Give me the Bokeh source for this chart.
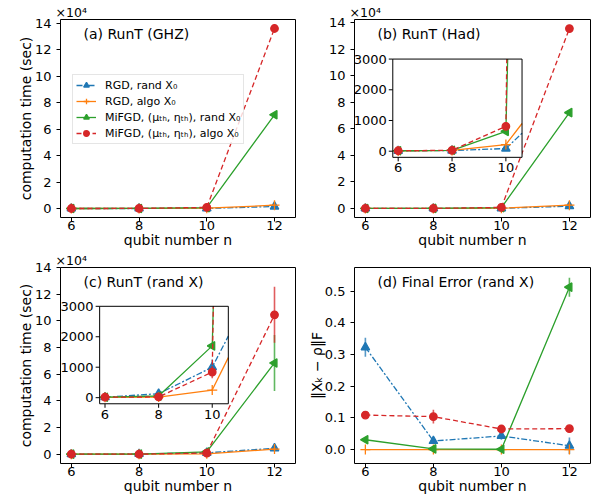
import numpy as np
from bokeh.plotting import figure
from bokeh.models import Range1d, Label, Legend, LegendItem, FixedTicker, Title
from bokeh.layouts import row, column
from bokeh.core.properties import value
from bokeh.embed import file_html
from bokeh.resources import INLINE

FONT = "DejaVu Sans"

# ---------------- data ----------------
qubits = [6, 8, 10, 12]
xticks = [6, 8, 10, 12]
xtick_labels = ["6", "8", "10", "12"]
runt_yticks = [0, 20000, 40000, 60000, 80000, 100000, 120000, 140000]
runt_ytick_labels = ["0", "2", "4", "6", "8", "10", "12", "14"]
err_yticks = [0.0, 0.1, 0.2, 0.3, 0.4, 0.5]
err_ytick_labels = ["0.0", "0.1", "0.2", "0.3", "0.4", "0.5"]
inset_xticks = [6, 8, 10]
inset_xtick_labels = ["6", "8", "10"]
inset_yticks = [0, 1000, 2000, 3000]
inset_ytick_labels = ["0", "1000", "2000", "3000"]

series_labels = ["RGD, rand X₀", "RGD, algo X₀",
                 "MiFGD, (μₜₕ, ηₜₕ), rand X₀", "MiFGD, (μₜₕ, ηₜₕ), algo X₀"]

# (a) RunT (GHZ), seconds
ghz_rgd_rand = [8, 25, 100, 1500]
ghz_rgd_algo = [8, 30, 230, 2500]
ghz_mifgd_rand = [12, 40, 600, 70900]
ghz_mifgd_algo = [12, 40, 850, 136200]

# (b) RunT (Had), seconds
had_rgd_rand = [10, 20, 87, 1750]
had_rgd_algo = [10, 25, 217, 2500]
had_mifgd_rand = [15, 30, 647, 72200]
had_mifgd_algo = [15, 30, 809, 135500]

# (c) RunT (rand X), seconds, with std
rx_rgd_rand = [15, 130, 1000, 4400]
rx_rgd_rand_err = [5, 40, 250, 2000]
rx_rgd_algo = [10, 20, 250, 3800]
rx_rgd_algo_err = [2, 5, 30, 1000]
rx_mifgd_rand = [15, 55, 1700, 68400]
rx_mifgd_rand_err = [3, 10, 60, 21000]
rx_mifgd_algo = [15, 25, 840, 104500]
rx_mifgd_algo_err = [3, 10, 200, 21000]

# (d) Final Error (rand X)
fe_rgd_rand = [0.323, 0.027, 0.043, 0.012]
fe_rgd_rand_err = [0.03, 0.005, 0.012, 0.026]
fe_rgd_algo = [0.0, 0.0, 0.0, 0.0]
fe_rgd_algo_err = [0.0, 0.0, 0.0, 0.0]
fe_mifgd_rand = [0.031, 0.002, 0.001, 0.513]
fe_mifgd_rand_err = [0.002, 0.001, 0.001, 0.03]
fe_mifgd_algo = [0.109, 0.104, 0.065, 0.066]
fe_mifgd_algo_err = [0.004, 0.022, 0.004, 0.004]

# ---------------- styles ----------------
STY = [
    dict(color="#1f77b4", dash="6 2 2 2", marker="triangle", angle=0.0, size=8.5),
    dict(color="#ff7f0e", dash="solid", marker="cross", angle=0.0, size=10),
    dict(color="#2ca02c", dash="solid", marker="triangle", angle=np.pi / 2, size=8.5),
    dict(color="#d62728", dash="5 3", marker="circle", angle=0.0, size=7.5),
]
LW = 1.3
XLIM = (5.68, 12.62)


def style_axes(p, yticks, ylabels, ylabel, ylabel_standoff=-2):
    p.grid.visible = False
    p.outline_line_color = "black"
    p.outline_line_width = 1
    p.xaxis.ticker = FixedTicker(ticks=xticks)
    p.xaxis.major_label_overrides = {float(k): v for k, v in zip(xticks, xtick_labels)}
    p.yaxis.ticker = FixedTicker(ticks=yticks)
    p.yaxis.major_label_overrides = {float(k): v for k, v in zip(yticks, ylabels)}
    for ax in (p.xaxis[0], p.yaxis[0]):
        ax.axis_line_color = None
        ax.major_tick_out = 4
        ax.major_tick_in = 0
        ax.minor_tick_out = 0
        ax.minor_tick_in = 0
        ax.major_tick_line_color = "black"
        ax.major_label_text_font = FONT
        ax.major_label_text_font_size = "13px"
        ax.major_label_text_color = "black"
        ax.axis_label_text_font = FONT
        ax.axis_label_text_font_size = "14px"
        ax.axis_label_text_font_style = "normal"
        ax.axis_label_text_color = "black"
    p.xaxis.major_label_standoff = -1
    p.xaxis.axis_label_standoff = -1
    p.yaxis.major_label_standoff = 5
    p.yaxis.axis_label_standoff = ylabel_standoff
    p.xaxis.axis_label = "qubit number n"
    p.yaxis.axis_label = ylabel


def make_fig(width, height, mbl, mbr, mbt, mbb, ylim, sci=True):
    kw = {}
    if sci:
        kw["title"] = Title(text="×10⁴", align="left", offset=-5, standoff=0,
                            text_font=FONT, text_font_size="12.5px", text_font_style="normal",
                            text_color="black")
    p = figure(width=width, height=height, x_range=Range1d(*XLIM), y_range=Range1d(*ylim),
               output_backend="svg", toolbar_location=None,
               min_border_left=mbl, min_border_right=mbr,
               min_border_top=mbt, min_border_bottom=mbb, **kw)
    p.background_fill_color = "white"
    p.border_fill_color = "white"
    return p


def plot_series(p, series, errs=None):
    rends = []
    for i, (ys, sty) in enumerate(zip(series, STY)):
        if errs is not None:
            e = errs[i]
            p.segment(x0=qubits, x1=qubits,
                      y0=[y - d for y, d in zip(ys, e)], y1=[y + d for y, d in zip(ys, e)],
                      line_color=sty["color"], line_width=1.6, line_alpha=0.75)
        lr = p.line(qubits, ys, line_color=sty["color"], line_width=LW, line_dash=sty["dash"])
        sr = p.scatter(qubits, ys, marker=sty["marker"], size=sty["size"], angle=sty["angle"],
                       fill_color=sty["color"], line_color=sty["color"], line_width=1.3)
        rends.append([lr, sr])
    return rends


def clip_segment(x0, y0, x1, y1, xmin, xmax, ymin, ymax):
    dx, dy = x1 - x0, y1 - y0
    u0, u1 = 0.0, 1.0
    for pi, qi in ((-dx, x0 - xmin), (dx, xmax - x0), (-dy, y0 - ymin), (dy, ymax - y0)):
        if pi == 0:
            if qi < 0:
                return None
        else:
            t = qi / pi
            if pi < 0:
                u0 = max(u0, t)
            else:
                u1 = min(u1, t)
    if u0 > u1:
        return None
    return (x0 + u0 * dx, y0 + u0 * dy, x0 + u1 * dx, y0 + u1 * dy)


def clip_polyline(xs, ys, box):
    px, py = [], []
    cx, cy = None, None
    for i in range(len(xs) - 1):
        seg = clip_segment(xs[i], ys[i], xs[i + 1], ys[i + 1], *box)
        if seg is None:
            if cx:
                px.append(cx); py.append(cy)
            cx = cy = None
            continue
        a, b, c, d = seg
        if cx is not None and abs(cx[-1] - a) < 1e-9 and abs(cy[-1] - b) < 1e-6:
            cx.append(c); cy.append(d)
        else:
            if cx:
                px.append(cx); py.append(cy)
            cx, cy = [a, c], [b, d]
    if cx:
        px.append(cx); py.append(cy)
    return px, py


def add_inset(p, src_x, src_y, tgt_x, tgt_y, series, errs=None):
    sub = p.subplot(x_source=src_x, y_source=src_y, x_target=tgt_x, y_target=tgt_y)
    x0, x1, y0, y1 = src_x.start, src_x.end, src_y.start, src_y.end
    box = (x0, x1, y0, y1)
    sub.quad(left=[x0], right=[x1], bottom=[y0], top=[y1], fill_color="white", line_color=None)
    for i, (ys, sty) in enumerate(zip(series, STY)):
        if errs is not None:
            e = errs[i]
            ex, ey = [], []
            for xq, yq, d in zip(qubits, ys, e):
                seg = clip_segment(xq, yq - d, xq, yq + d, *box)
                if seg is not None:
                    ex.append([seg[0], seg[2]]); ey.append([seg[1], seg[3]])
            if ex:
                sub.multi_line(xs=ex, ys=ey, line_color=sty["color"], line_width=1.6, line_alpha=0.75)
        px, py = clip_polyline(qubits, ys, box)
        sub.multi_line(xs=px, ys=py, line_color=sty["color"], line_width=LW, line_dash=sty["dash"])
        inx = [xq for xq, yq in zip(qubits, ys) if x0 <= xq <= x1 and y0 <= yq <= y1]
        iny = [yq for xq, yq in zip(qubits, ys) if x0 <= xq <= x1 and y0 <= yq <= y1]
        sub.scatter(inx, iny, marker=sty["marker"], size=sty["size"], angle=sty["angle"],
                    fill_color=sty["color"], line_color=sty["color"], line_width=1.3)
    sub.quad(left=[x0], right=[x1], bottom=[y0], top=[y1], fill_color=None,
             line_color="black", line_width=1)
    sub.ray(x=inset_xticks, y=[y0] * len(inset_xticks), length=4, length_units="screen",
            angle=-np.pi / 2, line_color="black", line_width=1)
    sub.ray(x=[x0] * len(inset_yticks), y=inset_yticks, length=4, length_units="screen",
            angle=np.pi, line_color="black", line_width=1)
    sub.text(x=inset_xticks, y=[y0] * len(inset_xticks), text=inset_xtick_labels,
             y_offset=6, text_align="center", text_baseline="top",
             text_font=value(FONT), text_font_size="13px", text_color="black")
    sub.text(x=[x0] * len(inset_yticks), y=inset_yticks, text=inset_ytick_labels,
             x_offset=-6, text_align="right", text_baseline="middle",
             text_font=value(FONT), text_font_size="13px", text_color="black")


def add_panel_title(p, text):
    p.add_layout(Label(x=p.x_range.start, y=p.y_range.end, x_offset=23, y_offset=-14,
                       text=text, text_baseline="middle", text_align="left",
                       text_font=FONT, text_font_size="14px", text_color="black"))


# ---------------- panel (a) ----------------
pa = make_fig(298, 250, 60, 3, 19, 32, (-6800, 143000))
style_axes(pa, runt_yticks, runt_ytick_labels, "computation time (sec)")
ra = plot_series(pa, [ghz_rgd_rand, ghz_rgd_algo, ghz_mifgd_rand, ghz_mifgd_algo])
add_panel_title(pa, "(a) RunT (GHZ)")
legend = Legend(items=[LegendItem(label=lab, renderers=r) for lab, r in zip(series_labels, ra)],
                location=(12, 73))
legend.label_text_font = FONT
legend.label_text_font_size = "11px"
legend.label_text_color = "black"
legend.glyph_width = 20
legend.glyph_height = 14
legend.label_height = 14
legend.spacing = 2
legend.padding = 3
legend.margin = 0
legend.label_standoff = 9
legend.border_line_color = "#cccccc"
legend.border_line_width = 1
legend.background_fill_alpha = 0.8
pa.add_layout(legend)

# ---------------- panel (b) ----------------
pb = make_fig(298, 250, 56, 6, 19, 32, (-6800, 142300))
style_axes(pb, runt_yticks, runt_ytick_labels, "")
plot_series(pb, [had_rgd_rand, had_rgd_algo, had_mifgd_rand, had_mifgd_algo])
add_panel_title(pb, "(b) RunT (Had)")
add_inset(pb, Range1d(5.8, 10.6), Range1d(-200, 3000), Range1d(6.806, 10.607), Range1d(38500, 112500),
          [had_rgd_rand, had_rgd_algo, had_mifgd_rand, had_mifgd_algo])

# ---------------- panel (c) ----------------
pc = make_fig(298, 250, 60, 3, 15, 37, (-7000, 140000))
style_axes(pc, runt_yticks, runt_ytick_labels, "computation time (sec)")
rx = [rx_rgd_rand, rx_rgd_algo, rx_mifgd_rand, rx_mifgd_algo]
rx_err = [rx_rgd_rand_err, rx_rgd_algo_err, rx_mifgd_rand_err, rx_mifgd_algo_err]
plot_series(pc, rx, rx_err)
add_panel_title(pc, "(c) RunT (rand X)")
add_inset(pc, Range1d(5.8, 10.6), Range1d(-200, 3000), Range1d(6.836, 10.636), Range1d(37800, 110900),
          rx, rx_err)

# ---------------- panel (d) ----------------
pd = make_fig(298, 250, 56, 6, 15, 37, (-0.044, 0.575), sci=False)
style_axes(pd, err_yticks, err_ytick_labels, "‖Xₖ − ρ‖F", ylabel_standoff=-3)
plot_series(pd, [fe_rgd_rand, fe_rgd_algo, fe_mifgd_rand, fe_mifgd_algo],
            [fe_rgd_rand_err, fe_rgd_algo_err, fe_mifgd_rand_err, fe_mifgd_algo_err])
add_panel_title(pd, "(d) Final Error (rand X)")

layout = column(row(pa, pb), row(pc, pd))
open("out.html", "w").write(file_html(layout, INLINE))
